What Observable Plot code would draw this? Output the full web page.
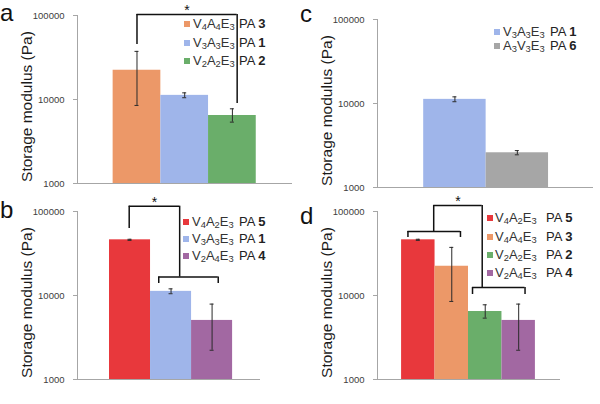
<!DOCTYPE html>
<html><head><meta charset="utf-8">
<script src="https://cdn.jsdelivr.net/npm/d3@7"></script>
<script src="https://cdn.jsdelivr.net/npm/@observablehq/plot@0.6"></script>
<style>
body{margin:0;background:#fff;}
#fig{position:relative;width:600px;height:404px;overflow:hidden;font-family:"Liberation Sans",Arial,sans-serif;background:#fff;}
.panel{position:absolute;}
.letter{position:absolute;font-size:24px;line-height:18px;color:#111;}
.leg{position:absolute;font-size:13px;line-height:14px;color:#333;white-space:nowrap;}
.pa{color:#222;}
.sw{position:absolute;width:6px;height:6px;}
.sub{font-size:0.72em;vertical-align:-0.22em;line-height:0;}
</style></head><body><div id="fig"></div><script>
// ---------- data ----------
const yTicks = [1000, 10000, 100000];
const yLabel = "Storage modulus (Pa)";

// panel a
const aPeptides = ["V4A4E3", "V3A3E3", "V2A2E3"];
const aPA = ["3", "1", "2"];
const aValues = [22300, 11200, 6450];
const aLow = [8500, 10500, 5380];
const aHigh = [37400, 12000, 7750];
const aColors = ["#EC9868", "#9FB5EA", "#6AAE6A"];
const aBrackets = [{x1: 0, x2: 2.1, y: 102800, yL: 45200, yR: 8970}];

// panel b
const bPeptides = ["V4A2E3", "V3A3E3", "V2A4E3"];
const bPA = ["5", "1", "4"];
const bValues = [46000, 11200, 5050];
const bLow = [45300, 10500, 2230];
const bHigh = [46700, 12000, 7900];
const bColors = ["#E8383C", "#9FB5EA", "#A268A2"];
const bBrackets = [
  {x1: -0.02, x2: 1.21, y: 115700, yL: 62800, yR: 16600},
  {x1: 0.70, x2: 2.15, y: 16600, yL: 13900, yR: 13900}
];

// panel c
const cPeptides = ["V3A3E3", "A3V3E3"];
const cPA = ["1", "6"];
const cValues = [11200, 2590];
const cLow = [10500, 2450];
const cHigh = [12000, 2750];
const cColors = ["#9FB5EA", "#A6A6A6"];
const cBrackets = [];

// panel d
const dPeptides = ["V4A2E3", "V4A4E3", "V2A2E3", "V2A4E3"];
const dPA = ["5", "3", "2", "4"];
const dValues = [46000, 22300, 6450, 5050];
const dLow = [45300, 8500, 5380, 2230];
const dHigh = [46700, 37400, 7750, 7900];
const dColors = ["#E8383C", "#EC9868", "#6AAE6A", "#A268A2"];
const dBrackets = [
  {x1: 0.46, x2: 1.91, y: 117900, yL: 57800, yR: 12450},
  {x1: -0.31, x2: 1.26, y: 57800, yL: 49000, yR: 49000},
  {x1: 1.62, x2: 3.19, y: 12450, yL: 10280, yR: 10280}
];

// ---------- layout ----------
const panels = [
  {letter: "a", left: 0, top: 0, height: 195, mt: 15, mb: 12, mr: 8, xDomain: [-1.247, 3.26], step: 47.7,
   peptides: aPeptides, pa: aPA, values: aValues, low: aLow, high: aHigh, colors: aColors, brackets: aBrackets,
   letterPos: [0, 4], leg: {sx: 184, tx: 193, px: 239, ys: [24, 43, 61]}},
  {letter: "b", left: 0, top: 190, height: 201, mt: 21, mb: 12, mr: 40, xDomain: [-1.28, 3.18], step: 41,
   peptides: bPeptides, pa: bPA, values: bValues, low: bLow, high: bHigh, colors: bColors, brackets: bBrackets,
   letterPos: [0, 201], leg: {sx: 183, tx: 192, px: 239, ys: [222, 239, 256]}},
  {letter: "c", left: 300, top: 0, height: 200, mt: 19, mb: 13, mr: 7, xDomain: [-1.24, 2.22], step: 62.5,
   peptides: cPeptides, pa: cPA, values: cValues, low: cLow, high: cHigh, colors: cColors, brackets: cBrackets,
   letterPos: [300, 5], leg: {sx: 494, tx: 503, px: 550, ys: [32, 46]}},
  {letter: "d", left: 300, top: 190, height: 201, mt: 21, mb: 12, mr: 40, xDomain: [-1.22, 4.25], step: 33.5,
   peptides: dPeptides, pa: dPA, values: dValues, low: dLow, high: dHigh, colors: dColors, brackets: dBrackets,
   letterPos: [300, 207], leg: {sx: 487, tx: 495, px: 546, ys: [218, 237, 255, 273]}}
];

const fig = document.getElementById("fig");
const subify = s => s.replace(/(\d)/g, '<span class="sub">$1</span>');

for (const p of panels) {
  const rows = p.values.map((v, i) => ({i, value: v, lo: p.low[i], hi: p.high[i], color: p.colors[i]}));
  const cap = 2 / p.step;
  const stars = p.brackets.length ? [p.brackets[0]] : [];
  const chart = Plot.plot({
    width: 300, height: p.height,
    marginLeft: 77, marginRight: p.mr, marginTop: p.mt, marginBottom: p.mb,
    style: {fontFamily: '"Liberation Sans", Arial, sans-serif', background: "transparent", overflow: "visible"},
    x: {domain: p.xDomain, axis: null},
    y: {type: "log", domain: [1000, 100000], axis: null},
    color: {type: "identity"},
    marks: [
      Plot.rect(rows, {x1: d => d.i - 0.5, x2: d => d.i + 0.5, y1: () => 1000, y2: "value", fill: "color"}),
      Plot.ruleX(rows, {x: "i", y1: "lo", y2: "hi", stroke: "#2a2a2a", strokeWidth: 1}),
      Plot.ruleY(rows, {y: "lo", x1: d => d.i - cap, x2: d => d.i + cap, stroke: "#2a2a2a"}),
      Plot.ruleY(rows, {y: "hi", x1: d => d.i - cap, x2: d => d.i + cap, stroke: "#2a2a2a"}),
      Plot.ruleX([p.xDomain[0]], {stroke: "#a6a6a6"}),
      Plot.ruleY([1000], {stroke: "#a6a6a6"}),
      Plot.axisY({ticks: yTicks, tickFormat: d => String(d), tickSize: 4, tickPadding: 9, fontSize: 9.5,
                  stroke: "#a6a6a6", fill: "#404040", label: null}),
      Plot.ruleY(p.brackets, {y: "y", x1: "x1", x2: "x2", stroke: "#111", strokeWidth: 1.5}),
      Plot.ruleX(p.brackets, {x: "x1", y1: "y", y2: "yL", stroke: "#111", strokeWidth: 1.5}),
      Plot.ruleX(p.brackets, {x: "x2", y1: "y", y2: "yR", stroke: "#111", strokeWidth: 1.5}),
      Plot.text(stars, {x: d => (d.x1 + d.x2) / 2, y: "y", text: () => "*", lineAnchor: "bottom", dy: 1, fontSize: 14, fill: "#111"}),
      Plot.text([yLabel], {frameAnchor: "left", textAnchor: "middle", lineAnchor: "middle", rotate: -90, dx: -50, dy: 7, fontSize: 15.5, fill: "#1a1a1a"})
    ]
  });
  const holder = document.createElement("div");
  holder.className = "panel";
  holder.style.left = p.left + "px";
  holder.style.top = p.top + "px";
  holder.appendChild(chart);
  fig.appendChild(holder);

  const L = document.createElement("div");
  L.className = "letter";
  L.textContent = p.letter;
  L.style.left = p.letterPos[0] + "px";
  L.style.top = p.letterPos[1] + "px";
  fig.appendChild(L);

  p.peptides.forEach((name, r) => {
    const y = p.leg.ys[r];
    const sw = document.createElement("div");
    sw.className = "sw";
    sw.style.background = p.colors[r];
    sw.style.left = p.leg.sx + "px";
    sw.style.top = (y - 3) + "px";
    fig.appendChild(sw);
    const t = document.createElement("div");
    t.className = "leg";
    t.innerHTML = subify(name);
    t.style.left = p.leg.tx + "px";
    t.style.top = (y - 7) + "px";
    fig.appendChild(t);
    const pa = document.createElement("div");
    pa.className = "leg pa";
    pa.innerHTML = "PA <b>" + p.pa[r] + "</b>";
    pa.style.left = p.leg.px + "px";
    pa.style.top = (y - 7) + "px";
    fig.appendChild(pa);
  });
}
</script></body></html>
